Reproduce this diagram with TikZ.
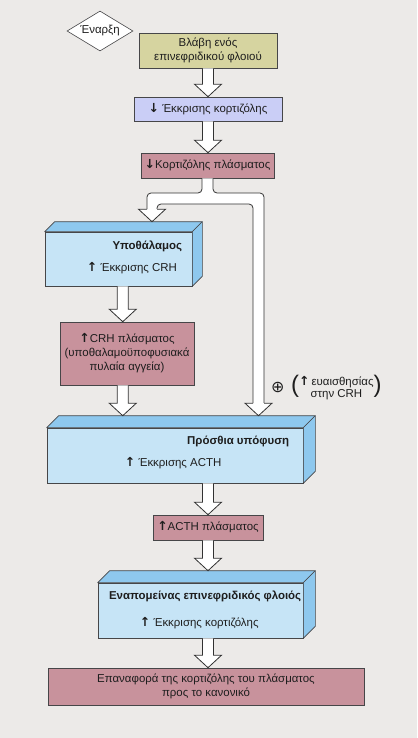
\documentclass[tikz,border=0pt]{standalone}
\usepackage{fontspec}
\setmainfont{Liberation Sans}
\newfontfamily\symfont{DejaVu Sans}
\usetikzlibrary{shapes.geometric,calc}
\definecolor{bggray}{RGB}{236,234,232}
\definecolor{boxline}{RGB}{70,70,72}
\definecolor{arrline}{RGB}{50,50,50}
\definecolor{txt}{RGB}{30,30,30}
\definecolor{olive}{RGB}{214,212,160}
\definecolor{lavender}{RGB}{202,206,246}
\definecolor{mauve}{RGB}{200,146,156}
\definecolor{front}{RGB}{198,228,246}
\definecolor{side}{RGB}{142,200,238}
\newcommand\up{{\symfont\bfseries\fontsize{12.5}{12.5}\selectfont ↑}}
\newcommand\down{{\symfont\bfseries\fontsize{12.5}{12.5}\selectfont ↓}}
% faces of a slab: node name, depth
\newcommand\slabfaces[2]{%
  \draw[face] (#1.north west) -- ++(#2,-#2) -- ([shift={(#2,-#2)}]#1.north east) -- (#1.north east) -- cycle;
  \draw[face] (#1.north east) -- ([shift={(#2,-#2)}]#1.north east) -- ([shift={(#2,-#2)}]#1.south east) -- (#1.south east) -- cycle;}
% hollow arrow: x from #1, from #2 down to #3
\newcommand\blockarrow[3]{%
  \draw[blockarr] let \p0=(#1), \p1=(#2), \p2=(#3) in
    (\x0-5.5bp,\y1) -- (\x0-5.5bp,\y2+12.5bp) -- (\x0-13.5bp,\y2+12.5bp) -- (\x0,\y2)
    -- (\x0+13.5bp,\y2+12.5bp) -- (\x0+5.5bp,\y2+12.5bp) -- (\x0+5.5bp,\y1);}
\begin{document}
\begin{tikzpicture}[x=1bp, y=-1bp, font=\fontsize{11.5}{14}\selectfont,
    box/.style={draw=boxline, line width=0.6bp, align=center, inner sep=0, text=txt},
    slab/.style={box, fill=front},
    face/.style={draw=boxline, line width=0.6bp, fill=side, line join=round},
    blockarr/.style={draw=arrline, line width=0.8bp, fill=white, line join=miter},
    title/.style={font=\fontsize{11.5}{14}\selectfont\bfseries, text=txt, inner sep=0},
    lbl/.style={text=txt, inner sep=0}]
	\fill[bggray] (0,0) rectangle (417,738);
	\useasboundingbox (0,0) rectangle (417,738);

	\node[diamond, draw=boxline, line width=0.6bp, fill=white, aspect=1.65, inner sep=0,
	    minimum width=66bp, minimum height=40bp, text=txt] (start) at (100,31) {Έναρξη};
	\node[box, fill=olive, minimum width=138bp, minimum height=35bp] (lesion) at (208,50.5) {Βλάβη ενός\\επινεφριδικού φλοιού};
	\node[box, fill=lavender, minimum width=148bp, minimum height=24bp] (secr) at (208,109) {\down\ Έκκρισης κορτιζόλης};
	\node[box, fill=mauve, minimum width=133bp, minimum height=25bp] (fall) at (207.5,165.5) {\down Κορτιζόλης πλάσματος};
	\node[slab, minimum width=147bp, minimum height=54bp] (hypo) at (118.5,259) {};
	\node[box, fill=mauve, minimum width=134bp, minimum height=63bp] (crh) at (127,353.5) {\up CRH πλάσματος\\(υποθαλαμοϋποφυσιακά\\πυλαία αγγεία)};
	\node[slab, minimum width=256bp, minimum height=55bp] (pit) at (175,455.5) {};
	\node[box, fill=mauve, minimum width=110bp, minimum height=25bp] (acth) at (208,527.5) {\up ACTH πλάσματος};
	\node[slab, minimum width=205bp, minimum height=55bp] (adr) at (200.5,610.5) {};
	\node[box, fill=mauve, minimum width=316bp, minimum height=37bp] (restore) at (206,686.5) {Επαναφορά της κορτιζόλης του πλάσματος\\προς το κανονικό};

	\slabfaces{hypo}{10}
	\slabfaces{pit}{12}
	\slabfaces{adr}{12}
	\coordinate (hypotop) at ([yshift=10bp]hypo.north);
	\coordinate (pittop) at ([yshift=12bp]pit.north);
	\coordinate (adrtop) at ([yshift=12bp]adr.north);
	\coordinate (leftcol) at ($(hypo.south)!.5!(crh.north)$);

	\node[title, anchor=east] (hyponame) at ([shift={(-10,15)}]hypo.north east) {Υποθάλαμος};
	\node[lbl, anchor=west] (hyposecr) at ([shift={(42,36)}]hypo.north west) {\up\ Έκκρισης CRH};
	\node[title, anchor=east] (pitname) at ([shift={(-14,14)}]pit.north east) {Πρόσθια υπόφυση};
	\node[lbl, anchor=west] (pitsecr) at ([shift={(78,35)}]pit.north west) {\up\ Έκκρισης ACTH};
	\node[title, anchor=east] (adrname) at ([shift={(-2,14)}]adr.north east) {Εναπομείνας επινεφριδικός φλοιός};
	\node[lbl, anchor=west] (adrsecr) at ([shift={(42,40)}]adr.north west) {\up\ Έκκρισης κορτιζόλης};

	\node[lbl, anchor=west] (plus) at (271,387) {\symfont\fontsize{16}{16}\selectfont ⊕};
	\node[lbl, anchor=west] (sens) at (291,388) {{\fontsize{24}{24}\selectfont(}\def\arraystretch{0.85}%
	    \begin{tabular}{@{}c@{}}\up\,ευαισθησίας\\στην CRH\end{tabular}{\fontsize{24}{24}\selectfont)}};

	\blockarrow{lesion.south}{lesion.south}{secr.north}
	\blockarrow{secr.south}{secr.south}{fall.north}
	\blockarrow{leftcol}{hypo.south}{crh.north}
	\blockarrow{leftcol}{crh.south}{pittop}
	\blockarrow{acth.north}{pit.south}{acth.north}
	\blockarrow{acth.south}{acth.south}{adrtop}
	\blockarrow{acth.south}{adr.south}{restore.north}

	% split after the plasma cortisol box
	\draw[blockarr, rounded corners=4bp] let \p1=(fall.south), \p2=(hypotop), \p3=(pittop) in
	    (\x1-5.5bp,\y1) -- (\x1-5.5bp,-193bp) -- (147bp,-193bp) -- (147bp,\y2+8bp) -- (157bp,\y2+8bp)
	    -- (157bp,-204bp) -- (253bp,-204bp) -- (253bp,\y3+8bp) -- (264bp,\y3+8bp)
	    -- (264bp,-193bp) -- (\x1+5.5bp,-193bp) -- (\x1+5.5bp,\y1);
	\draw[blockarr] let \p2=(hypotop) in
	    (147bp,\y2+12.5bp) -- (138.5bp,\y2+12.5bp) -- (152bp,\y2) -- (165.5bp,\y2+12.5bp) -- (157bp,\y2+12.5bp);
	\draw[blockarr] let \p3=(pittop) in
	    (253bp,\y3+12.5bp) -- (245bp,\y3+12.5bp) -- (258.5bp,\y3) -- (272bp,\y3+12.5bp) -- (264bp,\y3+12.5bp);
    \end{tikzpicture}
\end{document}
